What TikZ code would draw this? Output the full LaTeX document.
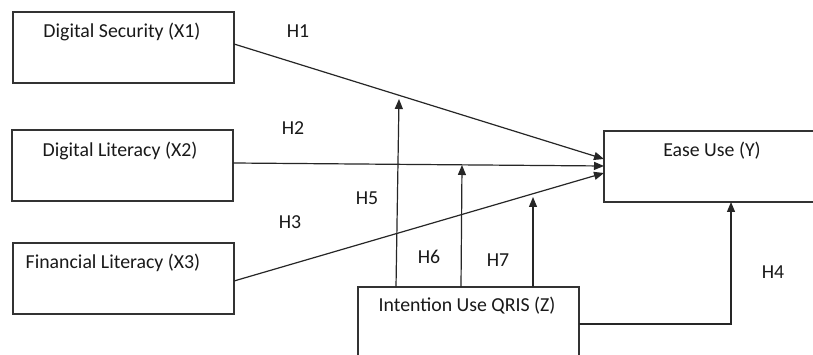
\documentclass[tikz,border=0pt]{standalone}
\usepackage{fontspec}
\setmainfont{Carlito}
\usetikzlibrary{arrows.meta,calc}

\tikzset{
  box/.style={draw=black!80, line width=1.5pt, rectangle, inner sep=0pt, outer sep=0pt, fill=white},
  lbl/.style={text=black!90, inner sep=0pt, font=\fontsize{19.8}{22}\selectfont},
  hyp/.style={text=black!90, inner sep=0pt, font=\fontsize{19.8}{22}\selectfont},
  link/.style={draw=black!85, line width=1.2pt, -{Triangle[length=10pt,width=8pt]}},
  plain/.style={draw=black!85, line width=1.2pt}
}

\begin{document}
\begin{tikzpicture}[x=1pt,y=-1pt]
  \useasboundingbox (0,0) rectangle (813,355);
  \clip (0,0) rectangle (813,355);
  \fill[white] (0,0) rectangle (813,355);

  % construct boxes
  \node[box, minimum width=221pt, minimum height=71pt] (x1) at (123.5,47.5) {};
  \node[box, minimum width=221pt, minimum height=71pt] (x2) at (122.5,165.5) {};
  \node[box, minimum width=221pt, minimum height=71pt] (x3) at (123.5,278.5) {};
  \node[box, minimum width=240pt, minimum height=71pt] (y) at (724,166.5) {};
  \node[box, minimum width=221pt, minimum height=100pt] (z) at (468.5,337) {};

  % box titles
  \node[lbl] (x1t) at (122,32) {Digital Security (X1)};
  \node[lbl] (x2t) at (120,151) {Digital Literacy (X2)};
  \node[lbl] (x3t) at (113,263) {Financial Literacy (X3)};
  \node[lbl] (yt) at (712,151) {Ease Use (Y)};
  \node[lbl] (zt) at (467,306) {Intention Use QRIS (Z)};

  % direct effects
  \draw[link] ([yshift=3.5pt]x1.east) -- ([yshift=7.5pt]y.west);
  \draw[link] ([yshift=2.5pt]x2.east) -- ([yshift=0.5pt]y.west);
  \draw[link] ([yshift=-2.5pt]x3.east) -- ([yshift=-6.5pt]y.west);

  % moderating effects
  \coordinate (m1) at (399,99);
  \coordinate (m2) at (462,165);
  \coordinate (m3) at (533,197);
  \draw[link] ([xshift=-72.5pt]z.north) -- (m1);
  \draw[link] ([xshift=-7.5pt]z.north) -- (m2);
  \draw[link] ([xshift=64.5pt]z.north) -- (m3);

  % Z to Y
  \draw[link] ([yshift=13pt]z.east) -| ([xshift=7pt]y.south);

  % hypothesis labels
  \node[hyp] (h1) at (298,31) {H1};
  \node[hyp] (h2) at (293,128) {H2};
  \node[hyp] (h3) at (290,222) {H3};
  \node[hyp] (h5) at (367,198) {H5};
  \node[hyp] (h6) at (429,257) {H6};
  \node[hyp] (h7) at (498,260) {H7};
  \node[hyp] (h4) at (773,272) {H4};
\end{tikzpicture}
\end{document}
